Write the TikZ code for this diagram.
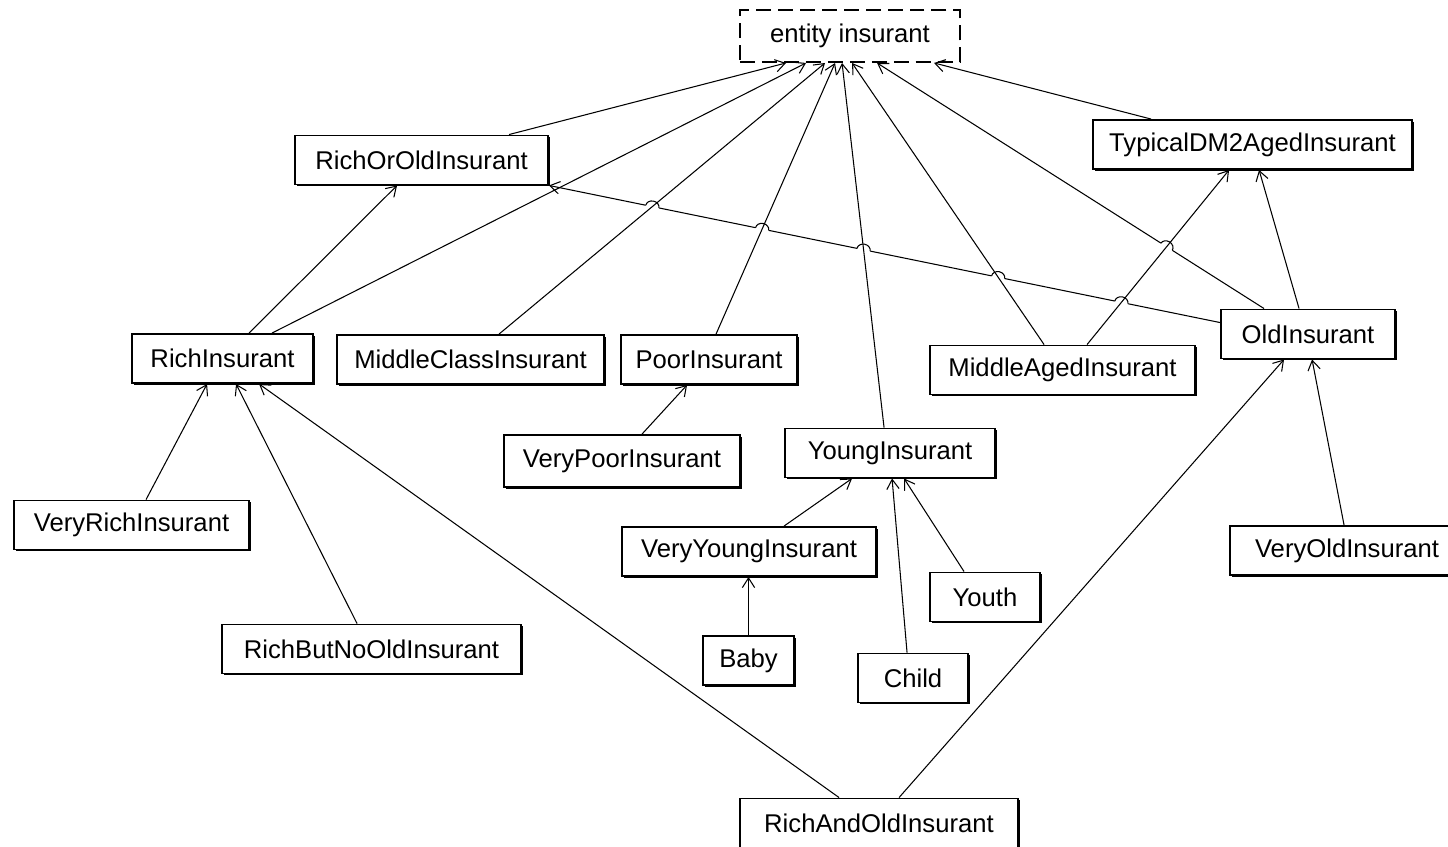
\documentclass[tikz,border=0pt]{standalone}
\usepackage{fontspec}
\setmainfont{Liberation Sans}
\usetikzlibrary{arrows.meta,calc,intersections,shadows}
\pgfdeclarelayer{under}
\pgfdeclarelayer{hops}
\pgfsetlayers{under,hops,main}

\tikzset{
  box/.style={draw, fill=white, line width=1.1pt, inner xsep=0pt,
    minimum height=0.98cm, font=\fontsize{14.6}{17}\selectfont},
  cls/.style={box, drop shadow={shadow xshift=0.9pt, shadow yshift=-0.9pt, fill=black, opacity=1}},
  isa/.style={line width=0.6pt, -{Straight Barb[length=5.5pt,width=7pt]}},
}
% line jumping over a crossing line
\newcommand\hop[3]{%
  \path[name intersections={of=#1 and #2, by=hx}];
  \begin{scope}[shift={(hx)}, rotate=#3]
    \fill[white] (-3.8pt,-1pt) rectangle (3.8pt,1pt);
    \draw[line width=0.6pt] (-3.8pt,0) arc[start angle=180, end angle=0, x radius=3.8pt, y radius=3.2pt];
  \end{scope}}

\begin{document}
\begin{tikzpicture}[x=0.02cm, y=-0.02cm]
  \useasboundingbox (0,0) rectangle (1448,846);

  \node[box, dashed, dash pattern=on 8.5pt off 4pt, minimum width=4.4cm, minimum height=1.04cm] (ent) at (850,36) {entity insurant};
  \node[cls, minimum width=5.06cm] (roo) at (421.5,160) {RichOrOldInsurant};
  \node[cls, minimum width=6.38cm] (typ) at (1252.5,144.5) {TypicalDM2AgedInsurant};
  \node[cls, minimum width=3.62cm] (rich) at (222.5,358.5) {RichInsurant};
  \node[cls, minimum width=5.34cm] (mid) at (470.5,359.5) {MiddleClassInsurant};
  \node[cls, minimum width=3.52cm] (poor) at (709,359.5) {PoorInsurant};
  \node[cls, minimum width=5.3cm] (midage) at (1062.5,370) {MiddleAgedInsurant};
  \node[cls, minimum width=3.48cm] (old) at (1308,334) {OldInsurant};
  \node[cls, minimum width=4.72cm, minimum height=1.04cm] (vpoor) at (622,461) {VeryPoorInsurant};
  \node[cls, minimum width=4.2cm] (young) at (890,453) {YoungInsurant};
  \node[cls, minimum width=4.7cm] (vrich) at (131.5,525) {VeryRichInsurant};
  \node[cls, minimum width=5.08cm] (vyoung) at (749,551.5) {VeryYoungInsurant};
  \node[cls, minimum width=4.68cm] (vold) at (1347,550.5) {VeryOldInsurant};
  \node[cls, minimum width=2.2cm] (youth) at (985,597) {Youth};
  \node[cls, minimum width=5.98cm] (rbno) at (371.5,649) {RichButNoOldInsurant};
  \node[cls, minimum width=1.82cm] (baby) at (748.5,660.5) {Baby};
  \node[cls, minimum width=2.2cm] (child) at (913,678) {Child};
  \node[cls, minimum width=5.56cm] (rao) at (879,823) {RichAndOldInsurant};

  % the two lines that jump
  \begin{pgfonlayer}{under}
    \draw[isa, name path global=ro] ($(old.north west)+(0,14)$) -- (roo.south east);
    \draw[isa, name path global=oe] ($(old.north west)+(44,0)$) -- ($(ent.south west)+(138,0)$);
  \end{pgfonlayer}

  % up to entity insurant
  \draw[isa] ($(roo.north west)+(215,0)$) -- ($(ent.south west)+(47,0)$);
  \draw[isa] ($(rich.north west)+(141,0)$) -- ($(ent.south west)+(67,0)$);
  \draw[isa, name path=l4] ($(mid.north west)+(163,0)$) -- ($(ent.south west)+(86,0)$);
  \draw[isa, name path=l5] ($(poor.north west)+(96,0)$) -- ($(ent.south west)+(96,0)$);
  \draw[isa, name path=l6] ($(young.north west)+(100,0)$) -- ($(ent.south west)+(103,0)$);
  \draw[isa, name path=l7] ($(midage.north west)+(115,0)$) -- ($(ent.south west)+(113,0)$);
  \draw[isa] ($(typ.north west)+(59,0)$) -- ($(ent.south west)+(195,0)$);

  % the others
  \draw[isa] ($(rich.north west)+(118,0)$) -- ($(roo.south west)+(103,0)$);
  \draw[isa, name path=l11] ($(midage.north west)+(158,0)$) -- ($(typ.south west)+(137,0)$);
  \draw[isa] ($(old.north west)+(79,0)$) -- ($(typ.south west)+(167,0)$);
  \draw[isa] ($(vpoor.north west)+(139,0)$) -- ($(poor.south west)+(67,0)$);
  \draw[isa] ($(vrich.north west)+(133,0)$) -- ($(rich.south west)+(76,0)$);
  \draw[isa] ($(rbno.north west)+(136,0)$) -- ($(rich.south west)+(105,0)$);
  \draw[isa] ($(rao.north west)+(100,0)$) -- ($(rich.south west)+(128,0)$);
  \draw[isa] ($(rao.north west)+(160,0)$) -- ($(old.south west)+(64,0)$);
  \draw[isa] ($(vold.north west)+(115,0)$) -- ($(old.south west)+(92,0)$);
  \draw[isa] ($(vyoung.north west)+(163,0)$) -- ($(young.south west)+(68,0)$);
  \draw[isa] (baby.north) -- (baby.north |- vyoung.south);
  \draw[isa] ($(child.north west)+(50,0)$) -- ($(young.south west)+(108,0)$);
  \draw[isa] ($(youth.north west)+(35,0)$) -- ($(young.south west)+(120,0)$);

  \begin{pgfonlayer}{hops}
    \hop{ro}{l4}{-11.5}
    \hop{ro}{l5}{-11.5}
    \hop{ro}{l6}{-11.5}
    \hop{ro}{l7}{-11.5}
    \hop{ro}{l11}{-11.5}
    \hop{oe}{l11}{-32.4}
  \end{pgfonlayer}
\end{tikzpicture}
\end{document}
